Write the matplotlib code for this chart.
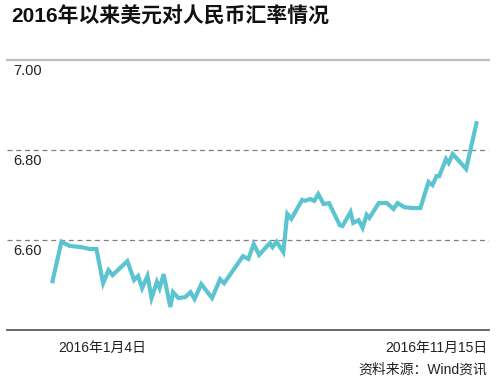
"""2016年以来美元对人民币汇率情况 —— 折线图复刻。"""

import matplotlib
matplotlib.use("Agg")
import matplotlib.pyplot as plt
import pandas as pd

FONTS = ["Liberation Sans", "Noto Sans CJK SC", "DejaVu Sans"]
plt.rcParams["font.family"] = FONTS

TITLE = "2016年以来美元对人民币汇率情况"
SOURCE = "资料来源：Wind资讯"
START_LABEL = "2016年1月4日"
END_LABEL = "2016年11月15日"

start_date = "2016-01-04"
# 距 2016-01-04 的天数（从图上读出的折点）
day_offsets = [
    0, 7, 13, 22, 28, 33, 38, 42, 45, 56, 61, 64, 67, 71, 74, 78, 80, 83,
    88, 90, 94, 99, 103, 106, 111, 119, 125, 128, 142, 146, 150, 154, 162,
    164, 167, 169, 172, 175, 178, 186, 188, 192, 195, 198, 202, 206, 214,
    216, 222, 224, 228, 231, 234, 236, 243, 249, 254, 257, 262, 268, 274,
    280, 283, 286, 288, 293, 295, 298, 308, 316,
]
usd_cny = [
    6.504, 6.596, 6.587, 6.584, 6.580, 6.580, 6.504, 6.533, 6.522, 6.553,
    6.511, 6.520, 6.493, 6.520, 6.471, 6.507, 6.493, 6.524, 6.451, 6.484,
    6.471, 6.473, 6.484, 6.469, 6.502, 6.471, 6.513, 6.504, 6.564, 6.558,
    6.591, 6.567, 6.593, 6.584, 6.596, 6.587, 6.573, 6.658, 6.647, 6.689,
    6.687, 6.691, 6.687, 6.702, 6.680, 6.682, 6.633, 6.631, 6.662, 6.638,
    6.644, 6.627, 6.656, 6.649, 6.682, 6.682, 6.669, 6.682, 6.673, 6.671,
    6.671, 6.729, 6.722, 6.742, 6.742, 6.780, 6.771, 6.791, 6.758, 6.864,
]
y_ticks = [7.00, 6.80, 6.60]
y_min, y_max = 6.40, 7.00

dates = pd.Timestamp(start_date) + pd.to_timedelta(day_offsets, unit="D")

fig = plt.figure(figsize=(4.97, 3.81), dpi=100)
ax = fig.add_axes([7 / 497, 51 / 381, 482 / 497, 270 / 381])

ax.plot(dates, usd_cny, color="#5cc4d0", lw=3.0, solid_joinstyle="miter",
        solid_capstyle="butt", zorder=3)

ax.set_ylim(y_min, y_max)
ax.set_xlim(dates[0] - pd.Timedelta(days=33.5), dates[-1] + pd.Timedelta(days=9))

for v in y_ticks[1:]:
    ax.axhline(v, color="#808080", lw=0.9, ls=(0, (4, 3)), zorder=1)

for s in ["left", "right"]:
    ax.spines[s].set_visible(False)
ax.spines["top"].set_color("#bdbdbd")
ax.spines["top"].set_linewidth(1.6)
ax.spines["bottom"].set_color("#5a5a5a")
ax.spines["bottom"].set_linewidth(1.3)
ax.set_xticks([])
ax.set_yticks([])

# y 轴标签放在各横线下方
for v in y_ticks:
    ax.annotate(f"{v:.2f}", xy=(0, v), xycoords=("axes fraction", "data"),
                xytext=(6, -4), textcoords="offset pixels", ha="left", va="top",
                fontsize=10.5, color="#222222")

ax.text(51 / 482, -0.04, START_LABEL, transform=ax.transAxes, ha="left",
        va="top", fontsize=10, color="#222222")
ax.text(1.0 - 2 / 482, -0.04, END_LABEL, transform=ax.transAxes, ha="right",
        va="top", fontsize=10, color="#222222")
fig.text(487 / 497, 1 - 370 / 381, SOURCE, ha="right", va="center",
         fontsize=10, color="#222222")

fig.text(11 / 497, 1 - 17 / 381, TITLE, ha="left", va="center",
         fontsize=15, fontweight="bold", color="#111111")

fig.savefig("out.png", dpi=100)
